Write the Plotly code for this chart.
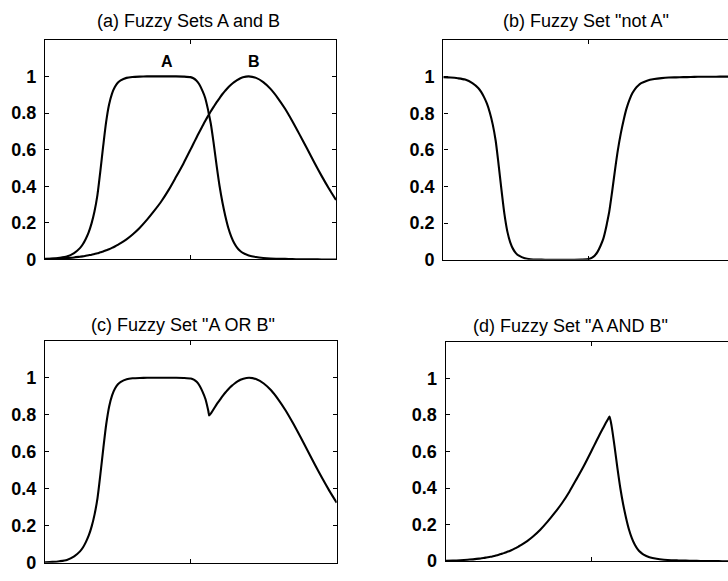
import numpy as np
import plotly.graph_objects as go

# ---- data ----
x_vals = [0, 2.5, 5, 7.5, 10, 12, 13, 14, 15, 16, 17, 18, 19, 20, 21, 22, 23, 24, 25, 26,
          28, 30, 32.5, 35, 37.5, 40, 42.5, 45, 47.5, 50, 51, 52, 53, 54, 55, 56, 56.3, 57,
          58, 59, 60, 61, 62, 63, 64, 65, 66, 67, 68, 70, 72.5, 75, 77.5, 80, 82.5, 85,
          87.5, 90, 92.5, 95, 97.5, 100]

set_a = [0.003, 0.005, 0.009, 0.016, 0.035, 0.062, 0.083, 0.112, 0.148, 0.197, 0.262, 0.35,
         0.48, 0.62, 0.75, 0.845, 0.905, 0.942, 0.965, 0.978,
         0.992, 0.997, 0.999, 1.0, 1.0, 1.0, 1.0, 1.0, 0.999, 0.996, 0.99, 0.978, 0.957, 0.925,
         0.885, 0.82, 0.796, 0.74,
         0.63, 0.51, 0.40, 0.31, 0.235, 0.172, 0.125, 0.09, 0.065, 0.048, 0.036, 0.022, 0.013,
         0.008, 0.005, 0.004, 0.003, 0.002,
         0.001, 0.001, 0.001, 0.0, 0.0, 0.0]

set_b = [0.002, 0.003, 0.005, 0.008, 0.011, 0.015, 0.017, 0.020, 0.023, 0.026, 0.030, 0.034,
         0.039, 0.044, 0.050, 0.056, 0.063, 0.071, 0.080, 0.089,
         0.110, 0.135, 0.172, 0.216, 0.265, 0.318, 0.38, 0.45, 0.522, 0.60, 0.632, 0.664, 0.695,
         0.725, 0.755, 0.783, 0.791, 0.810,
         0.835, 0.860, 0.882, 0.904, 0.923, 0.941, 0.956, 0.969, 0.980, 0.989, 0.995, 1.0,
         0.992, 0.969, 0.932, 0.882, 0.823, 0.755,
         0.682, 0.607, 0.531, 0.458, 0.389, 0.325]

y_ticks = [0, 0.2, 0.4, 0.6, 0.8, 1]
y_tick_text = ["0", "0.2", "0.4", "0.6", "0.8", "1"]

titles = ['(a) Fuzzy Sets A and B', '(b) Fuzzy Set "not A"',
          '(c) Fuzzy Set "A OR B"', '(d) Fuzzy Set "A AND B"']

a = np.array(set_a)
b = np.array(set_b)
not_a = 1 - a
a_or_b = np.maximum(a, b)
a_and_b = np.minimum(a, b)

W, H = 728, 581
FONT = "Liberation Sans, Arial, sans-serif"

# panel frames in pixels: left, right(visible), top, bottom, x-range max
panels = [
    dict(l=45.0, r=336.0, t=40.5, b=264.0, xmax=100),
    dict(l=443.3, r=728.0, t=40.7, b=264.3, xmax=(728 - 443.3) / 2.91),
    dict(l=45.0, r=336.7, t=346.7, b=572.7, xmax=100),
    dict(l=445.7, r=728.0, t=347.7, b=571.0, xmax=(728 - 445.7) / 2.91),
]
series = [[a, b], [not_a], [a_or_b], [a_and_b]]

fig = go.Figure()
layout = dict(width=W, height=H, margin=dict(l=0, r=0, t=0, b=0),
              paper_bgcolor="white", plot_bgcolor="white", showlegend=False,
              font=dict(family=FONT, color="black"))

for i, p in enumerate(panels):
    n = "" if i == 0 else str(i + 1)
    for ys in series[i]:
        fig.add_trace(go.Scatter(x=x_vals, y=ys, mode="lines",
                                 line=dict(color="black", width=2.1, shape="spline",
                                           smoothing=0.7),
                                 xaxis="x" + n, yaxis="y" + n, hoverinfo="skip"))
    full_right = p["r"] < 727
    layout["xaxis" + n] = dict(
        domain=[p["l"] / W, min(p["r"] / W, 1.0)], range=[0, p["xmax"]],
        anchor="y" + n, showline=True, linecolor="black", linewidth=1.4,
        mirror="ticks", ticks="inside", tickvals=[50], ticklen=4, tickcolor="black",
        showticklabels=False, showgrid=False, zeroline=False, fixedrange=True)
    layout["yaxis" + n] = dict(
        domain=[1 - p["b"] / H, 1 - p["t"] / H], range=[0, 1.2],
        anchor="x" + n, showline=True, linecolor="black", linewidth=1.4,
        mirror="ticks" if full_right else False, ticks="inside", ticklen=4,
        tickcolor="black", tickvals=y_ticks, ticktext=y_tick_text,
        tickfont=dict(size=18, family=FONT, color="black", weight="bold"),
        ticklabelstandoff=4,
        showgrid=False, zeroline=False, fixedrange=True)

title_pos = [(188, 21.5), (586, 21.5), (182.5, 330.5), (570, 332)]
annotations = []
for t, (px, py) in zip(titles, title_pos):
    annotations.append(dict(text=t, x=px / W, y=1 - py / H, xref="paper", yref="paper",
                            xanchor="center", yanchor="middle", showarrow=False,
                            font=dict(size=18, family=FONT, color="black")))
annotations.append(dict(text="A", x=41.9, y=1.084, xref="x", yref="y", showarrow=False,
                        xanchor="center", yanchor="middle",
                        font=dict(size=16, family=FONT, color="black", weight="bold")))
annotations.append(dict(text="B", x=71.8, y=1.084, xref="x", yref="y", showarrow=False,
                        xanchor="center", yanchor="middle",
                        font=dict(size=16, family=FONT, color="black", weight="bold")))
layout["annotations"] = annotations

fig.update_layout(**layout)
fig.write_html("out.html", config={"displayModeBar": False})
